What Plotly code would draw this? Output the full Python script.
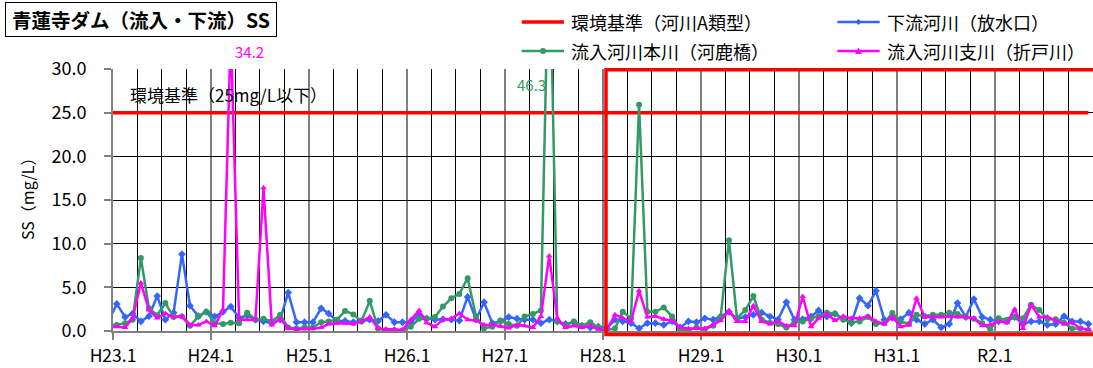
import pandas as pd
import plotly.graph_objects as go

# ---------------- data ----------------
# monthly sampling (mid-month), Dec 2010 .. Dec 2020
months = pd.date_range("2010-12-01", periods=121, freq="MS") + pd.Timedelta(days=14)

downstream = [1.1,
    3.1, 1.6, 2.0, 1.1, 1.7, 4.0, 1.3, 2.1, 8.8, 2.9, 1.7, 2.2,
    1.65, 2.2, 2.8, 1.5, 1.8, 1.3, 1.1, 0.9, 1.3, 4.4, 1.0, 1.0,
    1.0, 2.6, 2.0, 1.15, 1.15, 1.0, 1.15, 1.3, 1.15, 1.85, 1.0, 1.0,
    1.0, 1.85, 1.45, 1.3, 1.35, 1.3, 1.2, 3.9, 1.3, 3.3, 0.9, 1.1,
    1.6, 1.4, 1.3, 1.3, 0.9, 1.3, 1.1, 0.8, 1.0, 0.6, 0.4, 0.5,
    0.3, 1.3, 1.1, 0.9, 0.3, 0.9, 0.9, 0.7, 1.1, 0.4, 1.1, 1.0,
    1.45, 1.3, 1.65, 2.2, 1.4, 1.6, 1.85, 2.1, 1.65, 1.3, 3.3, 1.3,
    1.35, 1.65, 2.35, 1.65, 1.95, 1.45, 0.9, 3.75, 2.9, 4.6, 1.3, 1.5,
    1.35, 2.1, 1.3, 0.8, 1.3, 0.4, 0.8, 3.2, 1.6, 3.65, 1.6, 1.3,
    1.1, 1.1, 1.6, 0.8, 1.1, 1.1, 0.7, 0.8, 1.7, 1.1, 1.1, 0.8]

inflow_main = [0.7,
    0.7, 0.9, 1.3, 8.35, 2.6, 1.8, 3.2, 1.6, 1.65, 0.6, 1.65, 2.2,
    0.9, 0.8, 0.95, 0.9, 2.1, 1.3, 1.4, 1.1, 1.85, 0.4, 0.3, 0.4,
    0.4, 1.0, 1.1, 1.3, 2.3, 1.9, 1.1, 3.45, 0.3, 0.1, 0.1, 0.1,
    0.5, 1.4, 1.4, 1.6, 2.8, 3.75, 4.25, 6.05, 1.7, 0.3, 0.5, 1.2,
    0.8, 0.6, 1.65, 1.95, 2.35, 46.3, 1.1, 0.6, 1.1, 0.6, 1.0, 0.4,
    0.1, 0.3, 2.2, 1.45, 25.9, 2.2, 2.2, 2.7, 1.65, 0.2, 0.1, 0.4,
    0.2, 0.6, 1.6, 10.4, 1.45, 2.4, 4.0, 1.3, 0.95, 0.8, 0.4, 1.0,
    1.1, 1.4, 1.7, 2.1, 2.0, 1.3, 1.0, 1.1, 1.6, 0.8, 0.9, 2.05,
    1.1, 0.8, 1.85, 1.7, 1.85, 1.85, 2.1, 1.95, 1.6, 1.4, 0.9, 0.2,
    1.45, 1.3, 1.6, 1.45, 3.0, 2.4, 1.35, 1.35, 0.95, 0.3, 0.3, 0.1]

inflow_branch = [0.5,
    0.5, 0.4, 1.45, 5.5, 2.4, 1.5, 2.0, 1.6, 1.7, 0.7, 0.7, 1.1,
    0.6, 2.4, 34.2, 1.3, 1.3, 1.3, 16.4, 0.7, 1.4, 0.3, 0.2, 0.25,
    0.25, 0.4, 0.8, 0.9, 0.9, 0.8, 1.1, 1.6, 0.3, 0.2, 0.2, 0.1,
    1.3, 2.35, 0.95, 0.5, 1.3, 1.4, 2.0, 1.3, 1.2, 0.7, 0.7, 0.55,
    0.35, 0.7, 0.6, 0.4, 1.65, 8.6, 1.45, 0.4, 0.6, 0.4, 0.6, 0.2,
    0.05, 1.85, 1.45, 1.1, 4.6, 1.6, 1.7, 1.35, 1.2, 0.4, 0.3, 0.3,
    0.3, 0.7, 1.2, 2.3, 1.1, 1.1, 2.9, 1.1, 0.8, 1.1, 0.6, 0.6,
    3.95, 0.5, 1.45, 1.95, 1.2, 1.7, 1.45, 1.45, 1.7, 1.1, 0.8, 1.65,
    0.5, 0.7, 3.75, 1.6, 1.6, 1.6, 1.7, 1.6, 1.6, 1.45, 0.6, 0.7,
    1.1, 0.95, 2.5, 0.3, 3.0, 1.6, 1.6, 1.2, 0.8, 0.95, 0.3, 0.2]

env_standard = 25.0
tick_dates = ["2011-01-01", "2012-01-01", "2013-01-01", "2014-01-01", "2015-01-01",
              "2016-01-01", "2017-01-01", "2018-01-01", "2019-01-01", "2020-01-01"]
tick_labels = ["H23.1", "H24.1", "H25.1", "H26.1", "H27.1",
               "H28.1", "H29.1", "H30.1", "H31.1", "R2.1"]
y_ticks = [0, 5, 10, 15, 20, 25, 30]

RED = "#FF0000"
BLUE = "#3366FF"
GREEN = "#339966"
MAGENTA = "#FF00FF"
FONT = "Noto Sans CJK JP"

# plot-area pixel geometry
PL, PR, PT, PB = 113, 1093, 69, 331
def px(x):
    return (x - PL) / (PR - PL)
def py(y):
    return (PB - y) / (PB - PT)

fig = go.Figure()

fig.add_trace(go.Scatter(x=[months[0], months[-1]], y=[env_standard, env_standard],
                         mode="lines", line=dict(color=RED, width=3.5),
                         name="環境基準（河川A類型）", showlegend=False, hoverinfo="skip"))
fig.add_trace(go.Scatter(x=months, y=downstream, mode="lines+markers",
                         line=dict(color=BLUE, width=2.5),
                         marker=dict(symbol="diamond", size=6, color=BLUE),
                         name="下流河川（放水口）", showlegend=False))
fig.add_trace(go.Scatter(x=months, y=inflow_main, mode="lines+markers",
                         line=dict(color=GREEN, width=2.5),
                         marker=dict(symbol="circle", size=6, color=GREEN),
                         name="流入河川本川（河鹿橋）", showlegend=False))
fig.add_trace(go.Scatter(x=months, y=inflow_branch, mode="lines+markers",
                         line=dict(color=MAGENTA, width=2.5),
                         marker=dict(symbol="triangle-up", size=6, color=MAGENTA),
                         name="流入河川支川（折戸川）", showlegend=False))

minor_vals = [d for d in pd.date_range("2011-01-01", "2021-01-01", freq="QS")
              if d.month != 1]

fig.update_xaxes(
    type="date", range=["2011-01-01", "2021-01-01"], automargin=False,
    tickmode="array", tickvals=tick_dates, ticktext=tick_labels,
    showgrid=True, gridcolor="#808080", gridwidth=2,
    showline=True, linecolor="#808080", linewidth=2,
    ticks="outside", ticklen=7, tickwidth=2, tickcolor="#808080",
    ticklabelstandoff=1,
    tickfont=dict(family=FONT, size=17.5, color="black"),
    minor=dict(tickmode="array", tickvals=minor_vals, showgrid=True,
               gridcolor="black", gridwidth=1, ticks=""),
    zeroline=False,
)
fig.update_yaxes(
    range=[0, 30], automargin=False,
    tickmode="array", tickvals=y_ticks, tickformat=".1f",
    showgrid=True, gridcolor="black", gridwidth=1,
    showline=True, linecolor="#808080", linewidth=2,
    ticks="outside", ticklen=7, tickwidth=2, tickcolor="#808080",
    ticklabelstandoff=14,
    tickfont=dict(family=FONT, size=18, color="black"),
    zeroline=False,
)

shapes = []
# red frame (drawn object) from H28.1 onward
shapes.append(dict(type="rect", xref="paper", yref="paper",
                   x0=px(606), x1=px(1110), y0=py(334.5), y1=py(69.7),
                   line=dict(color=RED, width=3.5), fillcolor="rgba(0,0,0,0)",
                   layer="above"))

# legend samples
def hline(x0, x1, y, color, w):
    return dict(type="line", xref="paper", yref="paper", x0=px(x0), x1=px(x1),
                y0=py(y), y1=py(y), line=dict(color=color, width=w))

shapes.append(hline(521.7, 564, 22, RED, 3.5))
shapes.append(hline(521.7, 564, 51, GREEN, 2.5))
shapes.append(hline(837.4, 879.7, 22, BLUE, 2.5))
shapes.append(hline(837.4, 879.7, 51, MAGENTA, 2.5))
# green circle
shapes.append(dict(type="circle", xref="paper", yref="paper",
                   x0=px(540), x1=px(546), y0=py(54), y1=py(48),
                   line=dict(color=GREEN, width=0), fillcolor=GREEN))
# blue diamond
cx, cy = 858.5, 22
shapes.append(dict(type="path", xref="paper", yref="paper",
                   path=f"M {px(cx-3)} {py(cy)} L {px(cx)} {py(cy-3)} L {px(cx+3)} {py(cy)} L {px(cx)} {py(cy+3)} Z",
                   line=dict(color=BLUE, width=0), fillcolor=BLUE))
# magenta triangle
cx, cy = 858.5, 51
shapes.append(dict(type="path", xref="paper", yref="paper",
                   path=f"M {px(cx-3.5)} {py(cy+3)} L {px(cx)} {py(cy-3.5)} L {px(cx+3.5)} {py(cy+3)} Z",
                   line=dict(color=MAGENTA, width=0), fillcolor=MAGENTA))

annotations = [
    dict(text="<b>青蓮寺ダム（流入・下流）SS</b>", xref="paper", yref="paper",
         x=px(140.5), y=py(20), xanchor="center", yanchor="middle", showarrow=False,
         font=dict(family=FONT, size=19.5, color="black"),
         bordercolor="black", borderwidth=1, borderpad=1, bgcolor="white",
         width=268, height=31),
    dict(text="環境基準（河川A類型）", xref="paper", yref="paper", x=px(569), y=py(22),
         xanchor="left", yanchor="middle", showarrow=False,
         font=dict(family=FONT, size=18, color="black")),
    dict(text="流入河川本川（河鹿橋）", xref="paper", yref="paper", x=px(569), y=py(51),
         xanchor="left", yanchor="middle", showarrow=False,
         font=dict(family=FONT, size=18, color="black")),
    dict(text="下流河川（放水口）", xref="paper", yref="paper", x=px(884.6), y=py(22),
         xanchor="left", yanchor="middle", showarrow=False,
         font=dict(family=FONT, size=18, color="black")),
    dict(text="流入河川支川（折戸川）", xref="paper", yref="paper", x=px(884.6), y=py(51),
         xanchor="left", yanchor="middle", showarrow=False,
         font=dict(family=FONT, size=18, color="black")),
    dict(text="環境基準（25mg/L以下）", xref="paper", yref="paper", x=px(128), y=py(94),
         xanchor="left", yanchor="middle", showarrow=False,
         font=dict(family=FONT, size=17, color="black")),
    dict(text="34.2", xref="paper", yref="paper", x=px(249), y=py(52),
         xanchor="center", yanchor="middle", showarrow=False,
         font=dict(family=FONT, size=15, color=MAGENTA)),
    dict(text="46.3", xref="paper", yref="paper", x=px(531), y=py(84.5),
         xanchor="center", yanchor="middle", showarrow=False,
         font=dict(family=FONT, size=15, color=GREEN)),
    dict(text="SS（mg/L）", xref="paper", yref="paper", x=px(27), y=py(195),
         xanchor="center", yanchor="middle", showarrow=False, textangle=-90,
         font=dict(family=FONT, size=16, color="black")),
]

fig.update_layout(
    width=1093, height=368,
    margin=dict(l=PL, r=1093 - PR, t=PT, b=368 - PB, pad=0, autoexpand=False),
    paper_bgcolor="white", plot_bgcolor="white",
    showlegend=False,
    shapes=shapes, annotations=annotations,
    font=dict(family=FONT),
)

fig.write_html("out.html",
               config={"displayModeBar": False},
               post_script="document.body.style.margin='0';document.body.style.padding='0';"
                           "document.body.style.overflow='hidden';")
